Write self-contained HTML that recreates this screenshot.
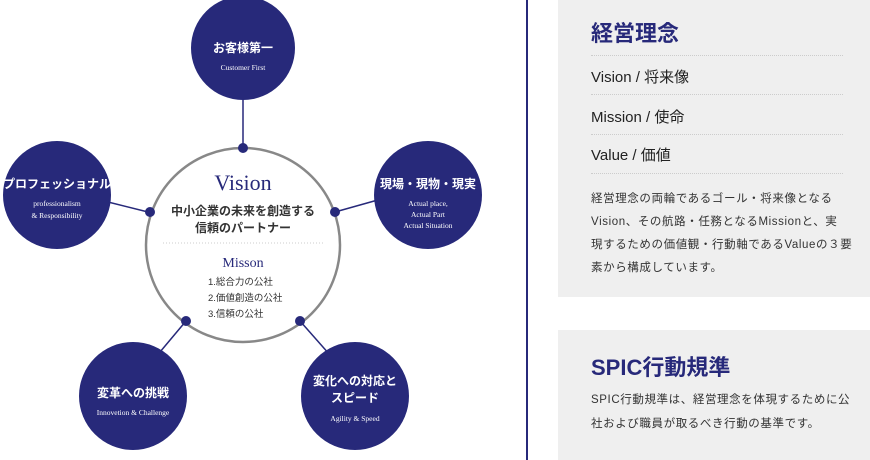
<!DOCTYPE html>
<html><head><meta charset="utf-8"><style>
body{margin:0;width:870px;height:460px;background:#fff;overflow:hidden;position:relative;font-family:"Liberation Sans","Noto Sans CJK JP",sans-serif}
.p{position:absolute;background:#efefef}
.t{position:absolute;color:#333}
</style></head><body>
<svg width="870" height="460" style="position:absolute;left:0;top:0" font-family="Liberation Sans, Noto Sans CJK JP, sans-serif">
<g stroke="#27297a" stroke-width="1.5">
<line x1="243" y1="90" x2="243" y2="148"/>
<line x1="100" y1="200" x2="148" y2="212"/>
<line x1="335" y1="212" x2="385" y2="198"/>
<line x1="186" y1="321" x2="160" y2="352"/>
<line x1="300" y1="321" x2="330" y2="355"/>
</g>
<circle cx="243" cy="245" r="97" fill="#fff" stroke="#888" stroke-width="2.5"/>
<g fill="#27297a">
<circle cx="243" cy="148" r="5"/><circle cx="150" cy="212" r="5"/><circle cx="335" cy="212" r="5"/><circle cx="186" cy="321" r="5"/><circle cx="300" cy="321" r="5"/>
<circle cx="243" cy="48" r="52"/><circle cx="57" cy="195" r="54"/><circle cx="428" cy="195" r="54"/><circle cx="133" cy="396" r="54"/><circle cx="355" cy="396" r="54"/>
</g>
<line x1="163" y1="243" x2="323" y2="243" stroke="#ccc" stroke-dasharray="1 2"/>
<g text-anchor="middle">
<text x="243" y="190" font-family="Liberation Serif,serif" font-size="22" fill="#27297a">Vision</text>
<text x="243" y="215" font-size="12" font-weight="bold" fill="#333">中小企業の未来を創造する</text>
<text x="243" y="232" font-size="12" font-weight="bold" fill="#333">信頼のパートナー</text>
<text x="243" y="267" font-family="Liberation Serif,serif" font-size="14" fill="#27297a">Misson</text>
</g>
<g font-size="9.5" fill="#333"><text x="208" y="285">1.総合力の公社</text><text x="208" y="301">2.価値創造の公社</text><text x="208" y="317">3.信頼の公社</text></g>
<g text-anchor="middle" fill="#fff">
<text x="243" y="52" font-size="12" font-weight="bold">お客様第一</text>
<text x="243" y="70" font-size="7.5" font-family="Liberation Serif,serif">Customer First</text>
<text x="57" y="188" font-size="12" font-weight="bold">プロフェッショナル</text>
<text x="57" y="206" font-size="7.5" font-family="Liberation Serif,serif">professionalism</text>
<text x="57" y="218" font-size="7.5" font-family="Liberation Serif,serif">&amp; Responsibility</text>
<text x="428" y="188" font-size="12" font-weight="bold">現場・現物・現実</text>
<text x="428" y="206" font-size="7.5" font-family="Liberation Serif,serif">Actual place,</text>
<text x="428" y="217" font-size="7.5" font-family="Liberation Serif,serif">Actual Part</text>
<text x="428" y="228" font-size="7.5" font-family="Liberation Serif,serif">Actual Situation</text>
<text x="133" y="397" font-size="12" font-weight="bold">変革への挑戦</text>
<text x="133" y="415" font-size="7.5" font-family="Liberation Serif,serif">Innovetion &amp; Challenge</text>
<text x="355" y="385" font-size="12" font-weight="bold">変化への対応と</text>
<text x="355" y="402" font-size="12" font-weight="bold">スピード</text>
<text x="355" y="421" font-size="7.5" font-family="Liberation Serif,serif">Agility &amp; Speed</text>
</g>
<line x1="527" y1="0" x2="527" y2="460" stroke="#27297a" stroke-width="2"/>
</svg>
<div class="p" style="left:558px;top:0;width:312px;height:297px"></div>
<div class="p" style="left:558px;top:330px;width:312px;height:130px"></div>
<div class="t" style="left:591px;top:16px;font-size:22px;font-weight:bold;color:#27297a">経営理念</div>
<div style="position:absolute;left:591px;top:55px;width:252px;border-top:1px dotted #ccc"></div>
<div class="t" style="left:591px;top:66px;font-size:15px;color:#222">Vision / 将来像</div>
<div style="position:absolute;left:591px;top:94px;width:252px;border-top:1px dotted #ccc"></div>
<div class="t" style="left:591px;top:106px;font-size:15px;color:#222">Mission / 使命</div>
<div style="position:absolute;left:591px;top:134px;width:252px;border-top:1px dotted #ccc"></div>
<div class="t" style="left:591px;top:144px;font-size:15px;color:#222">Value / 価値</div>
<div style="position:absolute;left:591px;top:173px;width:252px;border-top:1px dotted #ccc"></div>
<div class="t" style="left:591px;top:188px;white-space:nowrap;font-size:11.5px;line-height:23px;letter-spacing:0.6px">経営理念の両輪であるゴール・将来像となる<br>Vision、その航路・任務となるMissionと、実<br>現するための価値観・行動軸であるValueの３要<br>素から構成しています。</div>
<div class="t" style="left:591px;top:350px;font-size:22px;font-weight:bold;color:#27297a">SPIC行動規準</div>
<div class="t" style="left:591px;top:388px;white-space:nowrap;font-size:11.5px;line-height:24px;letter-spacing:0.6px">SPIC行動規準は、経営理念を体現するために公<br>社および職員が取るべき行動の基準です。</div>
</body></html>
